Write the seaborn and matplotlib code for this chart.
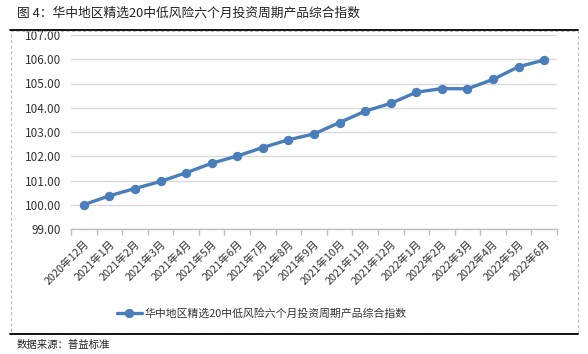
import matplotlib
matplotlib.use('Agg')
import matplotlib.pyplot as plt
from matplotlib.lines import Line2D
from matplotlib.patches import Rectangle
import seaborn as sns
import pandas as pd

months = ['2020年12月', '2021年1月', '2021年2月', '2021年3月', '2021年4月', '2021年5月',
          '2021年6月', '2021年7月', '2021年8月', '2021年9月', '2021年10月', '2021年11月',
          '2021年12月', '2022年1月', '2022年2月', '2022年3月', '2022年4月', '2022年5月',
          '2022年6月']
index_values = [100.00, 100.37, 100.67, 100.96, 101.32, 101.71, 102.01, 102.36, 102.68,
                102.92, 103.39, 103.86, 104.18, 104.64, 104.79, 104.78, 105.17, 105.69,
                105.97]
series_name = '华中地区精选20中低风险六个月投资周期产品综合指数'
title = '图 4：华中地区精选20中低风险六个月投资周期产品综合指数'
source = '数据来源：普益标准'

sns.set_style('white')
plt.rcParams['font.family'] = ['Noto Sans CJK SC', 'DejaVu Sans']

df = pd.DataFrame({'month': months, 'value': index_values})
df['pos'] = range(len(df))

W, H = 588, 354
fig = plt.figure(figsize=(W / 100, H / 100), dpi=100)
ax = fig.add_axes([71 / W, 1 - 229 / H, (557 - 71) / W, (229 - 35) / H])

blue = '#4a7ebb'
sns.lineplot(data=df, x='pos', y='value', ax=ax, color=blue, linewidth=2.4,
             marker='o', markersize=6, markeredgecolor=blue, label=series_name)

ax.set_xlim(-0.5, len(months) - 0.5)
ax.set_ylim(99, 107)
ax.set_yticks(range(99, 108))
ax.set_yticklabels([f'{v:.2f}' for v in range(99, 108)], fontsize=8.5, color='#333333')
ax.yaxis.grid(True, color='#d9d9d9', linewidth=1)
ax.set_axisbelow(True)

ax.set_xticks(df['pos'])
ax.set_xticklabels(months, rotation=45, ha='right', rotation_mode='anchor',
                   fontsize=7.8, color='#333333')
ax.set_xticks([i - 0.5 for i in range(len(months) + 1)], minor=True)
ax.tick_params(axis='x', which='major', length=0, pad=7)
ax.tick_params(axis='x', which='minor', length=4, color='#bfbfbf', width=1,
               direction='out', bottom=True)
ax.tick_params(axis='y', length=0, pad=7)
ax.set_xlabel('')
ax.set_ylabel('')
for side in ['top', 'right', 'left']:
    ax.spines[side].set_visible(False)
ax.spines['bottom'].set_color('#bfbfbf')
ax.spines['bottom'].set_linewidth(1)

leg = ax.legend(loc='center', bbox_to_anchor=(262 / W, 1 - 313 / H),
                bbox_transform=fig.transFigure, frameon=False, fontsize=7.8,
                handlelength=2.3, handletextpad=0.3)
for t in leg.get_texts():
    t.set_color('#333333')

# frame around the chart
fig.add_artist(Rectangle((11 / W, 1 - 333 / H), (578 - 11) / W, (333 - 31) / H,
                         transform=fig.transFigure, fill=False, edgecolor='#bfbfbf',
                         linestyle=(0, (3, 2)), linewidth=0.8))
fig.add_artist(Line2D([10 / W, 578 / W], [1 - 30 / H, 1 - 30 / H],
                      transform=fig.transFigure, color='black', linewidth=1.3))
fig.add_artist(Line2D([10 / W, 578 / W], [1 - 334 / H, 1 - 334 / H],
                      transform=fig.transFigure, color='black', linewidth=1.3))

fig.text(17 / W, 1 - 13 / H, title, fontsize=9.2, va='center', ha='left', color='#222222')
fig.text(17 / W, 1 - 345 / H, source, fontsize=7.5, va='center', ha='left', color='#222222')

fig.savefig('out.png', dpi=100)
